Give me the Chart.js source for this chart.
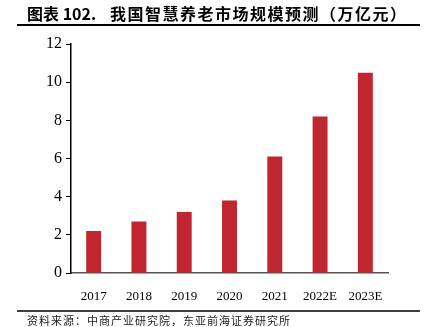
<!DOCTYPE html>
<html>
<head>
<meta charset="utf-8">
<script src="https://cdn.jsdelivr.net/npm/chart.js@4.4.0/dist/chart.umd.min.js"></script>
<style>
  html, body { margin: 0; padding: 0; background: #fff; }
  #wrap { width: 428px; height: 327px; position: relative; }
</style>
</head>
<body>
<div id="wrap"><canvas id="c"></canvas></div>
<script>
const years = ['2017', '2018', '2019', '2020', '2021', '2022E', '2023E'];
const marketSize = [2.2, 2.7, 3.2, 3.8, 6.1, 8.2, 10.5];
const yTicks = [0, 2, 4, 6, 8, 10, 12];

const titleLabel = '图表 102.';
const titleText = '我国智慧养老市场规模预测（万亿元）';
const sourceText = '资料来源：中商产业研究院，东亚前海证券研究所';

Chart.register({
  id: 'pageDecor',
  afterDraw: function(chart) {
    const ctx = chart.ctx;
    ctx.save();
    // title
    ctx.fillStyle = '#000';
    ctx.textBaseline = 'middle';
    ctx.font = 'bold 16px "Noto Sans CJK SC", sans-serif';
    ctx.fillText(titleLabel, 27, 14);
    ctx.letterSpacing = '1.5px';
    ctx.fillText(titleText, 110, 14);
    // rule under title
    ctx.strokeStyle = '#000';
    ctx.lineWidth = 2;
    ctx.beginPath();
    ctx.moveTo(17, 25);
    ctx.lineTo(420, 25);
    ctx.stroke();
    // rule above source
    ctx.lineWidth = 1.5;
    ctx.beginPath();
    ctx.moveTo(17, 311);
    ctx.lineTo(420, 311);
    ctx.stroke();
    // source
    ctx.fillStyle = '#222';
    ctx.font = '11px "Noto Sans CJK SC", sans-serif';
    ctx.letterSpacing = '1px';
    ctx.fillText(sourceText, 27, 321);
    ctx.restore();
  }
});

const ctx = document.getElementById('c').getContext('2d');
new Chart(ctx, {
  type: 'bar',
  data: {
    labels: years,
    datasets: [{
      data: marketSize,
      backgroundColor: '#C0262F',
      borderWidth: 0,
      barPercentage: 0.33,
      categoryPercentage: 1.0
    }]
  },
  options: {
    responsive: true,
    maintainAspectRatio: false,
    animation: false,
    layout: { padding: { top: 44, right: 40, left: 0, bottom: 0 } },
    plugins: {
      legend: { display: false },
      tooltip: { enabled: false }
    },
    scales: {
      x: {
        grid: { display: false },
        border: { display: true, color: '#555', width: 1.5 },
        ticks: {
          color: '#000',
          padding: 8,
          maxRotation: 0,
          font: { family: '"Liberation Serif", "Times New Roman", serif', size: 13 }
        },
        afterFit: function(scale) { scale.height = 54; }
      },
      y: {
        min: 0,
        max: 12,
        afterBuildTicks: function(scale) {
          scale.ticks = yTicks.map(v => ({ value: v }));
        },
        grid: {
          display: true,
          drawOnChartArea: false,
          drawTicks: true,
          tickLength: 5,
          color: '#000',
          lineWidth: 1
        },
        border: { display: true, color: '#000', width: 1.5 },
        ticks: {
          color: '#000',
          padding: 4,
          font: { family: '"Liberation Serif", "Times New Roman", serif', size: 16 }
        },
        afterFit: function(scale) { scale.width = 71; }
      }
    }
  }
});
</script>
</body>
</html>
